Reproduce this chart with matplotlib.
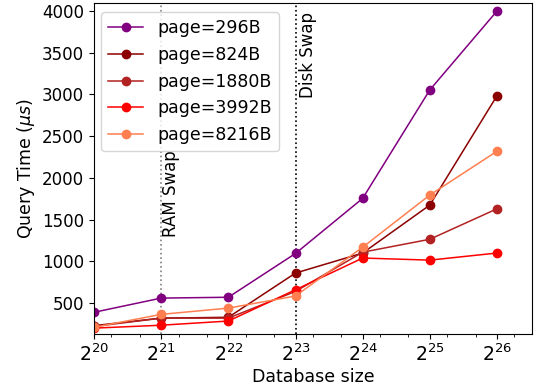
import numpy as np
import matplotlib
matplotlib.use("Agg")
import matplotlib.pyplot as plt
from matplotlib.ticker import FixedLocator, NullFormatter

sizes = [2**20, 2**21, 2**22, 2**23, 2**24, 2**25, 2**26]
labels = ["page=296B", "page=824B", "page=1880B", "page=3992B", "page=8216B"]
colors = ["purple", "darkred", "firebrick", "red", "coral"]

t296 = [390, 560, 570, 1095, 1755, 3055, 4000]
t824 = [230, 320, 330, 860, 1100, 1675, 2985]
t1880 = [220, 320, 320, 640, 1110, 1265, 1630]
t3992 = [200, 235, 285, 660, 1040, 1015, 1100]
t8216 = [210, 365, 440, 585, 1170, 1795, 2320]
series = [t296, t824, t1880, t3992, t8216]

fig = plt.figure(figsize=(5.36, 3.87), dpi=100)
ax = fig.add_axes([0.1754, 0.137, 0.817, 0.855])

ax.axvline(2**21, color="grey", linestyle=":", linewidth=1.2)
ax.axvline(2**23, color="black", linestyle=":", linewidth=1.2)
ax.text(2**21 * 1.01, 1810, "RAM Swap", rotation=90, va="center", ha="left", fontsize=12)
ax.text(2**23 * 1.04, 3470, "Disk Swap", rotation=90, va="center", ha="left", fontsize=12)

for vals, lab, c in zip(series, labels, colors):
    ax.plot(sizes, vals, marker="o", color=c, label=lab, linewidth=1.1, markersize=6)

ax.set_xscale("log", base=2)
ax.set_xlim(2**20, 2**26.52)
ax.set_ylim(130, 4095)
ax.set_xticks(sizes)
minor = [2**(k + f) for k in range(19, 27) for f in (0.26, 0.68)]
ax.xaxis.set_minor_locator(FixedLocator(minor))
ax.xaxis.set_minor_formatter(NullFormatter())
ax.tick_params(labelsize=12)
ax.tick_params(axis="x", labelsize=13.5)
ax.set_xlabel("Database size", fontsize=12.5, labelpad=2)
ax.set_ylabel("Query Time ($\\mu s$)", fontsize=12.5)
ax.legend(loc="upper left", fontsize=12.5, bbox_to_anchor=(-0.003, 0.998))

plt.savefig("out.png", dpi=100)
